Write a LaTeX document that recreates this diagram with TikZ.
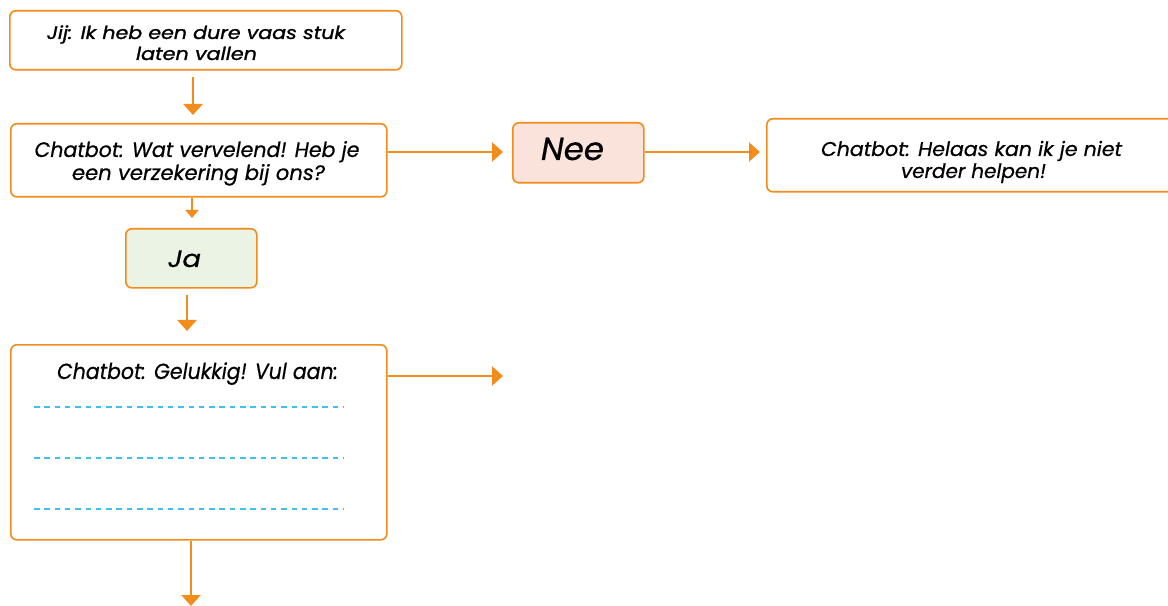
\documentclass[tikz,border=0pt]{standalone}
\usepackage{fontspec}
\setmainfont{Poppins}
\usetikzlibrary{arrows.meta,calc}
\definecolor{org}{HTML}{F28C1B}
\definecolor{neefill}{HTML}{FAE3DA}
\definecolor{jafill}{HTML}{EBF3E4}
\definecolor{dashc}{HTML}{3FC1F0}
\newcommand\fitw[2]{\resizebox{#1bp}{\height}{#2}}
\begin{document}
\begin{tikzpicture}[x=1bp,y=-1bp,
  box/.style={draw=org,line width=1.6bp,rounded corners=6bp,anchor=north west,inner sep=0pt},
  ln/.style={anchor=base,inner sep=0pt,text=black},
  arr/.style={draw=org,line width=2.2bp,-{Triangle[width=19bp,length=11bp]}},
  arrs/.style={draw=org,line width=1.8bp,-{Triangle[width=13bp,length=8bp]}},
  fill line/.style={draw=dashc,line width=1.4bp,dash pattern=on 5.5bp off 4.8bp}]
\useasboundingbox (0,0) rectangle (1168,606);
\clip (0,0) rectangle (1168,606);
\fill[white] (0,0) rectangle (1168,606);
% boxes
\node[box,minimum width=392bp,minimum height=59bp] (b1) at (9,10) {};
\node[ln,font=\itshape\fontsize{18}{20}\selectfont\addfontfeatures{FakeBold=1.2}] (t1a) at (196,39) {\fitw{298}{Jij: Ik heb een dure vaas stuk}};
\node[ln,font=\itshape\fontsize{18}{20}\selectfont\addfontfeatures{FakeBold=1.2}] (t1b) at (196.5,60) {\fitw{121}{laten vallen}};
\node[box,minimum width=376bp,minimum height=73bp] (b2) at (10,123) {};
\node[ln,font=\itshape\fontsize{21}{23}\selectfont\addfontfeatures{FakeBold=0.5}] (t2a) at (197,157) {\fitw{325}{Chatbot: Wat vervelend! Heb je}};
\node[ln,font=\itshape\fontsize{21}{23}\selectfont\addfontfeatures{FakeBold=0.5}] (t2b) at (198.5,180) {\fitw{253}{een verzekering bij ons?}};
\node[box,fill=neefill,minimum width=131bp,minimum height=60bp] (nee) at (512,122) {};
\node[ln,font=\itshape\fontsize{32}{34}\selectfont\addfontfeatures{FakeBold=0.5}] (tnee) at (572.5,160) {\fitw{63}{Nee}};
\node[box,minimum width=430bp,minimum height=73bp] (b3) at (766,118) {};
\node[ln,font=\itshape\fontsize{20}{22}\selectfont\addfontfeatures{FakeBold=0.5}] (t3a) at (971.5,156) {\fitw{301}{Chatbot: Helaas kan ik je niet}};
\node[ln,font=\itshape\fontsize{20}{22}\selectfont\addfontfeatures{FakeBold=0.5}] (t3b) at (973.5,178) {\fitw{145}{verder helpen!}};
\node[box,fill=jafill,minimum width=131bp,minimum height=59bp] (ja) at (125,228) {};
\node[ln,font=\itshape\fontsize{24}{26}\selectfont\addfontfeatures{FakeBold=0.5}] (tja) at (184.5,267) {\fitw{33}{Ja}};
\node[box,minimum width=376bp,minimum height=195bp] (b4) at (10,344) {};
\node[ln,font=\itshape\fontsize{22}{24}\selectfont\addfontfeatures{FakeBold=0.5}] (t4) at (197.5,379) {\fitw{281}{Chatbot: Gelukkig! Vul aan:}};
% fill-in lines
\coordinate (l1a) at (34,407); \coordinate (l1b) at (344,407);
\coordinate (l2a) at (34,458); \coordinate (l2b) at (344,458);
\coordinate (l3a) at (34,509); \coordinate (l3b) at (344,509);
\draw[fill line] (l1a) -- (l1b);
\draw[fill line] (l2a) -- (l2b);
\draw[fill line] (l3a) -- (l3b);
% connector coordinates
\coordinate (x1) at (193,0);
\coordinate (x2) at (192,0);
\coordinate (x3) at (187,0);
\coordinate (x4) at (191,0);
\coordinate (y1) at (0,152);
\coordinate (y4) at (0,376);
\coordinate (e4) at (503,376);
\coordinate (e5) at (191,606);
% connectors
\draw[arr,shorten <=6bp,shorten >=8bp] (b1.south -| x1) -- (b2.north -| x1);
\draw[arr,shorten >=9bp] (b2.east |- y1) -- (nee.west |- y1);
\draw[arr,shorten >=6bp] (nee.east |- y1) -- (b3.west |- y1);
\draw[arrs,shorten >=10bp] (b2.south -| x2) -- (ja.north -| x2);
\draw[arr,shorten <=6bp,shorten >=13bp] (ja.south -| x3) -- (b4.north -| x3);
\draw[arr] (b4.east |- y4) -- (e4);
\draw[arr] (b4.south -| x4) -- (e5);
\end{tikzpicture}
\end{document}
